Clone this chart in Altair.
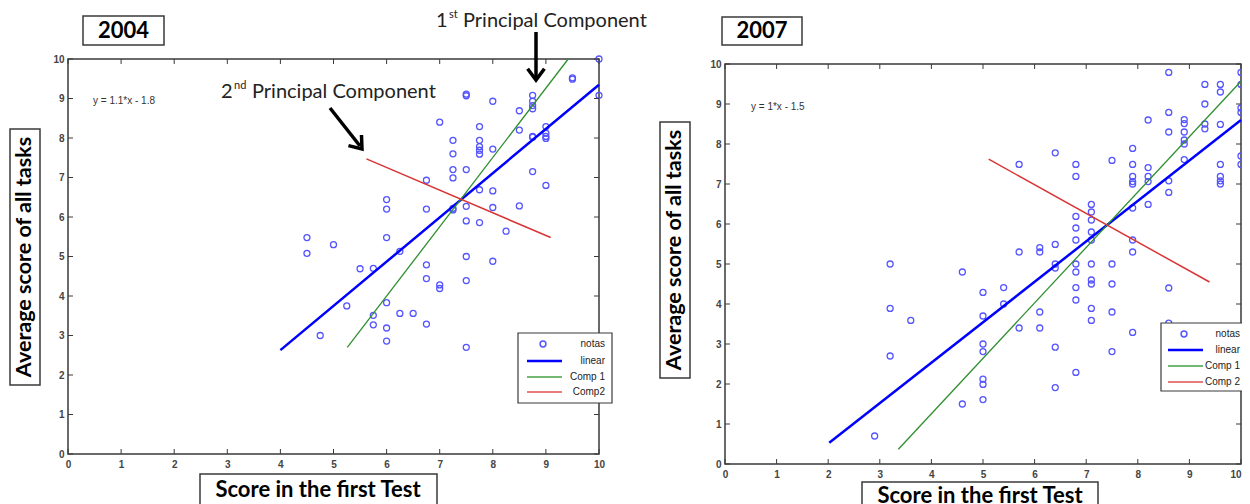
import altair as alt
import pandas as pd

TICKS = list(range(11))

# ---- 2004 scores (first test, average of all tasks)
x2004 = [4.5, 4.5, 4.75, 5.0, 5.25, 5.5, 5.75, 5.75, 5.75, 6, 6, 6, 6, 6, 6, 6.25, 6.25, 6.5,
         6.75, 6.75, 6.75, 6.75, 6.75, 7, 7, 7, 7.25, 7.25, 7.25, 7.25, 7.25, 7.25,
         7.5, 7.5, 7.5, 7.5, 7.5, 7.5, 7.5, 7.5, 7.75, 7.75, 7.75, 7.75, 7.75, 7.75, 7.75,
         8, 8, 8, 8, 8, 8.25, 8.5, 8.5, 8.5, 8.75, 8.75, 8.75, 8.75, 8.75, 8.75, 8.75,
         9, 9, 9, 9, 9, 9.5, 9.5, 10, 10]
y2004 = [5.48, 5.08, 3.0, 5.3, 3.75, 4.69, 4.7, 3.51, 3.27, 6.44, 6.2, 5.48, 3.83, 3.19, 2.86, 5.13, 3.56, 3.56,
         6.93, 6.2, 4.79, 4.44, 3.29, 8.4, 4.28, 4.19, 7.94, 7.6, 7.2, 6.99, 6.22, 6.18,
         9.11, 9.07, 7.2, 6.27, 5.9, 5.0, 4.39, 2.7, 8.29, 7.94, 7.78, 7.69, 7.59, 6.69, 5.86,
         8.93, 7.72, 6.66, 6.24, 4.88, 5.64, 8.69, 8.2, 6.28, 9.08, 8.93, 8.82, 8.74, 8.04, 8.02, 7.15,
         8.29, 8.12, 8.04, 7.99, 6.8, 9.52, 9.49, 10.0, 9.08]

# ---- 2007 scores
x2007 = [2.9, 3.2, 3.2, 3.2, 3.6, 4.6, 4.6, 5, 5, 5, 5, 5, 5, 5, 5.4, 5.4, 5.7, 5.7, 5.7,
         6.1, 6.1, 6.1, 6.1, 6.4, 6.4, 6.4, 6.4, 6.4, 6.4,
         6.8, 6.8, 6.8, 6.8, 6.8, 6.8, 6.8, 6.8, 6.8, 6.8,
         7.1, 7.1, 7.1, 7.1, 7.1, 7.1, 7.1, 7.1, 7.1, 7.1,
         7.5, 7.5, 7.5, 7.5, 7.5, 7.9, 7.9, 7.9, 7.9, 7.9, 7.9, 7.9, 7.9, 7.9,
         8.2, 8.2, 8.2, 8.2, 8.2, 8.6, 8.6, 8.6, 8.6, 8.6, 8.6, 8.6,
         8.9, 8.9, 8.9, 8.9, 8.9, 8.9, 9.3, 9.3, 9.3, 9.3,
         9.6, 9.6, 9.6, 9.6, 9.6, 9.6, 9.6, 10, 10, 10, 10, 10, 10]
y2007 = [0.7, 5.0, 3.89, 2.7, 3.59, 4.8, 1.5, 4.29, 3.7, 3.0, 2.81, 2.12, 1.99, 1.61, 4.41, 4.0, 7.49, 5.3, 3.4,
         5.41, 5.3, 3.8, 3.4, 7.78, 5.49, 5.0, 4.9, 2.92, 1.91,
         7.49, 7.19, 6.19, 5.9, 5.6, 5.0, 4.8, 4.41, 4.1, 2.29,
         6.49, 6.3, 6.1, 5.8, 5.6, 5.0, 4.6, 4.5, 3.89, 3.59,
         7.59, 5.0, 4.5, 3.8, 2.81, 7.89, 7.49, 7.19, 7.06, 7.0, 6.4, 5.6, 5.3, 3.29,
         8.6, 7.41, 7.19, 7.06, 6.49, 9.79, 8.79, 8.3, 7.08, 6.79, 4.4, 3.52,
         8.61, 8.51, 8.3, 8.1, 8.0, 7.61, 9.49, 9.0, 8.5, 8.38,
         9.49, 9.3, 8.49, 7.49, 7.19, 7.08, 7.0, 9.79, 9.49, 8.9, 8.79, 7.7, 7.49]

# ---- fitted line and principal component segments (end points)
lin2004_x = [4.0, 10.0]
lin2004_y = [2.63, 9.35]
pc1_2004_x = [5.26, 9.42]
pc1_2004_y = [2.70, 10.0]
pc2_2004_x = [5.62, 9.09]
pc2_2004_y = [7.47, 5.48]

lin2007_x = [2.02, 10.0]
lin2007_y = [0.53, 8.6]
pc1_2007_x = [3.36, 10.0]
pc1_2007_y = [0.37, 9.57]
pc2_2007_x = [5.11, 9.39]
pc2_2007_y = [7.62, 4.55]

legend_2004 = ["notas", "linear", "Comp 1", "Comp2"]
legend_2007 = ["notas", "linear", "Comp 1", "Comp 2"]

PT = "#5555ff"
LIN = "#0000ff"
GRN = "#2f8f2f"
RED = "#d93535"
FRAME = "#3a3a3a"
HEAD = "Lato"
SMALL = "Liberation Sans"

ONE = pd.DataFrame({"a": [0]})


def txt(s, x, y, **kw):
    return alt.Chart(pd.DataFrame({"t": [s]})).mark_text(**kw).encode(
        x=alt.value(x), y=alt.value(y), text="t:N")


def box(x1, x2, y1, y2, sw=1.5):
    return alt.Chart(ONE).mark_rect(fill="white", stroke=FRAME, strokeWidth=sw).encode(
        x=alt.value(x1), x2=alt.value(x2), y=alt.value(y1), y2=alt.value(y2))


def seg(x1, y1, x2, y2, color, width):
    return alt.Chart(ONE).mark_rule(color=color, strokeWidth=width).encode(
        x=alt.value(x1), y=alt.value(y1), x2=alt.value(x2), y2=alt.value(y2))


def head(x, y, angle):
    return alt.Chart(ONE).mark_point(
        shape="M -0.75 -1 L 0 0 L 0.75 -1", filled=False, color="black",
        strokeWidth=3.5, size=500, angle=angle, opacity=1).encode(
        x=alt.value(x), y=alt.value(y))


def legend(x1, x2, y1, y2, rows, lx1, lx2, cx, tx, labels):
    lay = [box(x1, x2, y1, y2, sw=1.2)]
    lay.append(alt.Chart(ONE).mark_point(shape="circle", filled=False, color=PT, size=34,
                                         strokeWidth=1.5, opacity=1).encode(
        x=alt.value(cx), y=alt.value(rows[0])))
    lay.append(seg(lx1, rows[1], lx2, rows[1], LIN, 2.5))
    lay.append(seg(lx1, rows[2], lx2, rows[2], "#45a045", 1.5))
    lay.append(seg(lx1, rows[3], lx2, rows[3], "#e05050", 1.5))
    for r, l in zip(rows, labels):
        lay.append(txt(l, tx, r, align="right", baseline="middle", font=SMALL,
                       fontSize=10, color="#222"))
    return lay


def panel(W, H, px, py, segs, last_right=False):
    xsc = alt.Scale(domain=[0, 10], nice=False, zero=False)
    ysc = alt.Scale(domain=[0, 10], nice=False, zero=False)
    common = dict(title=None, ticks=False, domain=False, grid=False, labelFont=SMALL,
                  labelFontSize=10, labelFontWeight="bold", labelColor="#444",
                  labelFlush=False, labelOverlap=False, values=TICKS, tickCount=11)
    xopts = dict(labelPadding=5, **common)
    if last_right:
        xopts["labelAlign"] = alt.ExprRef(expr="datum.value == 10 ? 'right' : 'center'")
    axx = alt.Axis(**xopts)
    axy = alt.Axis(labelPadding=4, **common)
    X = lambda f="x": alt.X(f + ":Q", scale=xsc, axis=axx)
    Y = lambda f="y": alt.Y(f + ":Q", scale=ysc, axis=axy)
    lay = []
    lay.append(alt.Chart(pd.DataFrame({"x": px, "y": py})).mark_point(
        shape="circle", filled=False, color=PT, size=36, strokeWidth=1.3, opacity=1).encode(
        x=X(), y=Y()))
    for sx, sy, col, w in segs:
        lay.append(alt.Chart(pd.DataFrame({"x": sx, "y": sy})).mark_line(
            color=col, strokeWidth=w).encode(x=X(), y=Y()))
    tx = pd.DataFrame({"x": TICKS})
    ty = pd.DataFrame({"y": TICKS})
    for y1, y2 in ((0, 5), (H - 5, H)):
        lay.append(alt.Chart(tx).mark_rule(color=FRAME, strokeWidth=1).encode(
            x=X(), y=alt.value(y1), y2=alt.value(y2)))
    for x1, x2 in ((0, 5), (W - 5, W)):
        lay.append(alt.Chart(ty).mark_rule(color=FRAME, strokeWidth=1).encode(
            y=Y(), x=alt.value(x1), x2=alt.value(x2)))
    return lay


# ---------------- 2004 panel
W1, H1 = 531, 395
L = panel(W1, H1, x2004, y2004, [
    (lin2004_x, lin2004_y, LIN, 2.5),
    (pc1_2004_x, pc1_2004_y, GRN, 1.3),
    (pc2_2004_x, pc2_2004_y, RED, 1.5),
])
L += legend(450, 544, 274, 344, [285, 302, 318, 333], 459, 494, 475, 537, legend_2004)
L += [
    txt("y = 1.1*x - 1.8", 25, 42, align="left", baseline="middle", font=SMALL, fontSize=10, color="#333"),
    box(15, 96, -43, -14),
    txt("2004", 55.5, -28, align="center", baseline="middle", font=HEAD, fontSize=22,
        fontWeight="bold", color="black"),
    box(-58, -28, 70, 326),
    txt("Average score of all tasks", -43, 198, align="center", baseline="middle", angle=270,
        font=HEAD, fontSize=21.5, fontWeight="bold", color="black"),
    box(132, 369, 415, 460),
    txt("Score in the first Test", 250, 438, align="center", baseline="alphabetic", font=HEAD,
        fontSize=22, fontWeight="bold", color="black"),
    txt("1", 368, -32, align="left", baseline="alphabetic", font=HEAD, fontSize=20, color="#222"),
    txt("st", 381, -41, align="left", baseline="alphabetic", font=HEAD, fontSize=11, color="#222"),
    txt("Principal Component", 395, -32, align="left", baseline="alphabetic", font=HEAD,
        fontSize=20, color="#222"),
    seg(468, -27, 468, 18, "black", 3.5),
    head(468, 21, 0),
    txt("2", 153, 39, align="left", baseline="alphabetic", font=HEAD, fontSize=20, color="#222"),
    txt("nd", 166, 30, align="left", baseline="alphabetic", font=HEAD, fontSize=11, color="#222"),
    txt("Principal Component", 184, 39, align="left", baseline="alphabetic", font=HEAD,
        fontSize=20, color="#222"),
    seg(262, 49, 292, 87, "black", 3.5),
    head(294, 90, 321),
]
left = alt.layer(*L).properties(width=W1, height=H1)

# ---------------- 2007 panel
W2, H2 = 516, 400
R = panel(W2, H2, x2007, y2007, [
    (lin2007_x, lin2007_y, LIN, 2.5),
    (pc1_2007_x, pc1_2007_y, GRN, 1.3),
    (pc2_2007_x, pc2_2007_y, RED, 1.5),
], last_right=True)
R += legend(436, 535, 259, 327, [270, 286, 302, 318], 443, 478, 459, 515, legend_2007)
R += [
    txt("y = 1*x - 1.5", 26, 43, align="left", baseline="middle", font=SMALL, fontSize=10, color="#333"),
    box(-3, 77, -47, -19),
    txt("2007", 37, -33, align="center", baseline="middle", font=HEAD, fontSize=22,
        fontWeight="bold", color="black"),
    box(-65, -35, 58, 314),
    txt("Average score of all tasks", -50, 186, align="center", baseline="middle", angle=270,
        font=HEAD, fontSize=21.5, fontWeight="bold", color="black"),
    box(137, 373, 418, 460),
    txt("Score in the first Test", 255, 439, align="center", baseline="alphabetic", font=HEAD,
        fontSize=22, fontWeight="bold", color="black"),
]
right = alt.layer(*R).properties(width=W2, height=H2)

spacer = alt.Chart(ONE).mark_point(opacity=0).encode(
    x=alt.value(0), y=alt.value(0)).properties(
    width=W2, height=5, view=alt.ViewBackground(stroke="transparent"))

chart = alt.hconcat(
    left,
    alt.vconcat(spacer, right, spacing=0, bounds="flush"),
    spacing=126, bounds="flush",
).properties(
    autosize=alt.AutoSizeParams(type="none"),
    padding={"left": 60, "top": 51, "right": 1174, "bottom": 445},
    background="white",
).configure_view(stroke=FRAME, strokeWidth=1.5)

chart.save("out.html", embed_options={"renderer": "svg", "actions": False})
